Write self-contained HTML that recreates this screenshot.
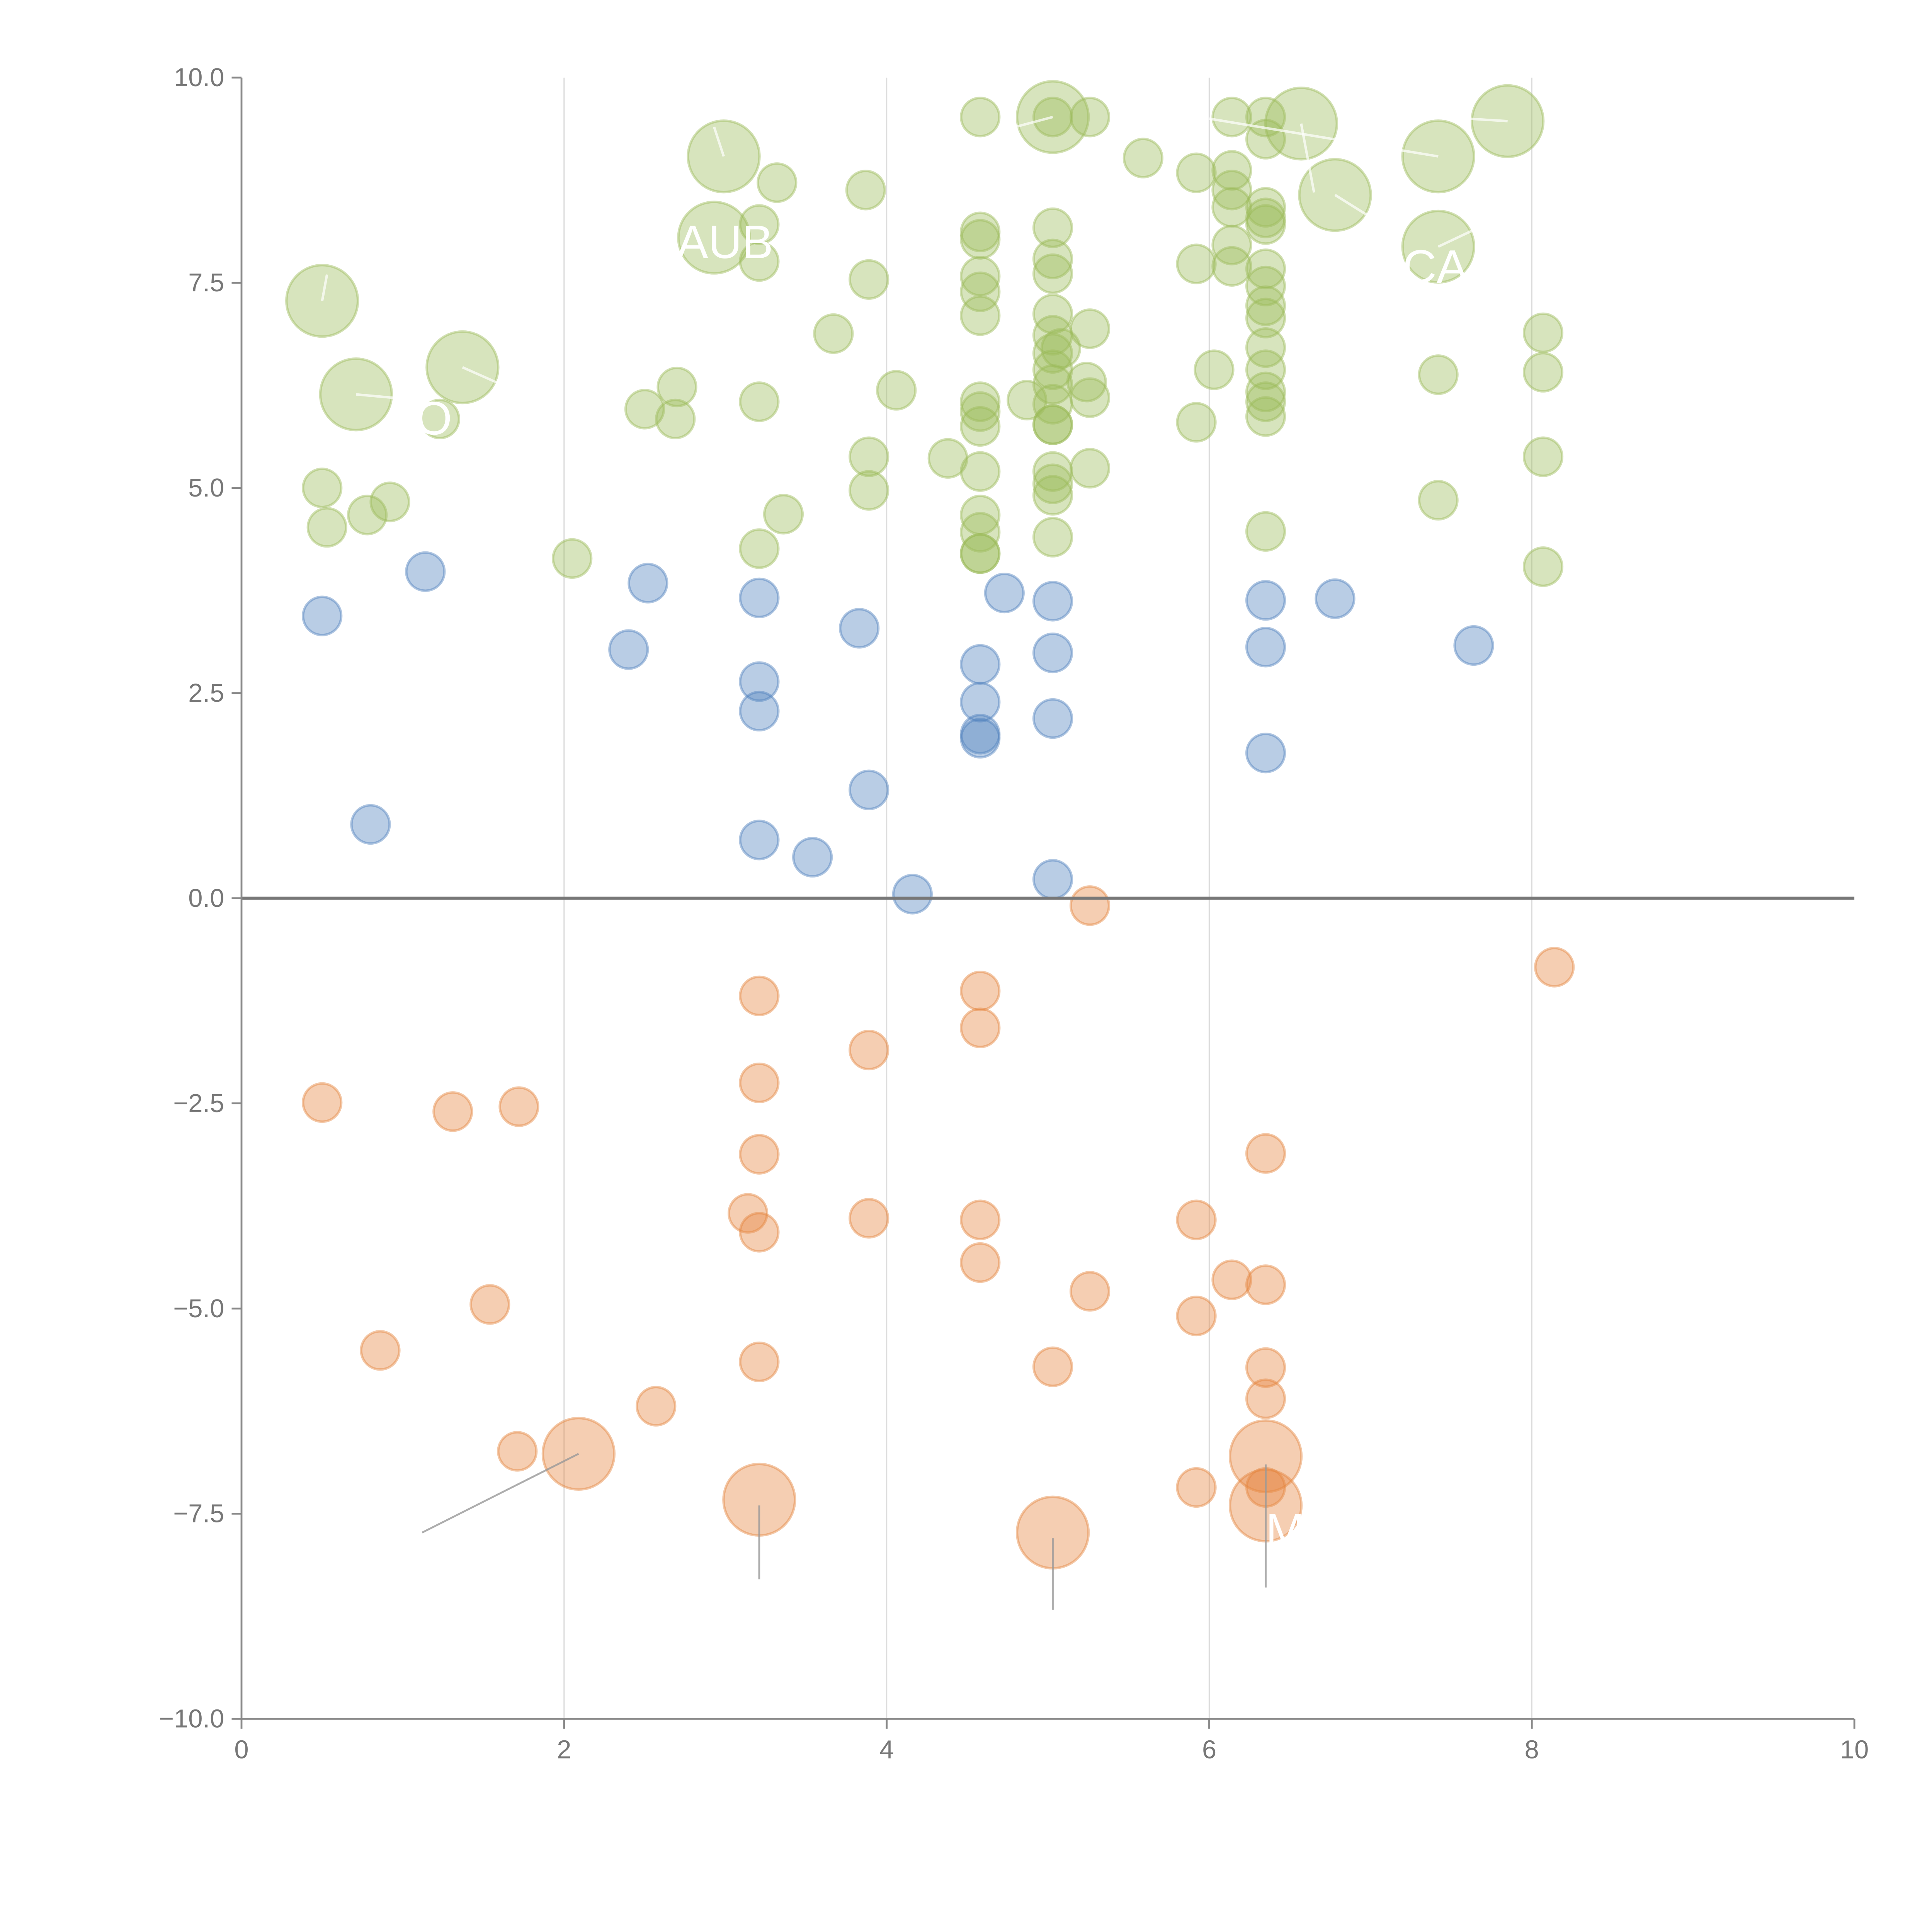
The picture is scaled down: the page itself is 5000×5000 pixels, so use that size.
<!DOCTYPE html>
<html><head><meta charset="utf-8"><style>html,body{margin:0;padding:0;background:#fff}svg{display:block}</style></head>
<body>
<svg id="chart" width="5000" height="5000" viewBox="0 0 1568 1568" xmlns="http://www.w3.org/2000/svg" font-family="Liberation Sans, sans-serif"></svg>
<script>
const xTicks=[0,2,4,6,8,10];
const yTicks=[-10,-7.5,-5,-2.5,0,2.5,5,7.5,10];
const yTickLabels=["\u221210.0","\u22127.5","\u22125.0","\u22122.5","0.0","2.5","5.0","7.5","10.0"];
const greenX=[0.5,0.53,0.78,0.92,0.5,0.71,1.37,1.23,2.05,2.5,2.69,2.7,2.99,2.93,3.21,3.21,3.32,3.21,3.21,3.36,3.67,3.87,3.89,3.89,3.89,4.06,4.38,4.58,4.58,4.58,4.58,4.58,4.58,4.58,4.58,4.58,4.58,4.58,4.58,4.58,4.58,4.87,5.03,5.03,5.26,5.03,5.03,5.03,5.03,5.03,5.03,5.03,5.03,5.03,5.03,5.03,5.03,5.03,5.03,5.03,5.08,5.26,5.24,5.26,5.26,5.59,5.92,5.92,5.92,6.03,6.14,6.14,6.14,6.14,6.14,6.14,6.35,6.35,6.35,6.35,6.35,6.35,6.35,6.35,6.35,6.35,6.35,6.35,6.35,6.35,6.35,6.57,6.78,7.42,7.42,7.42,7.42,7.85,8.07,8.07,8.07,8.07];
const greenY=[5.0,4.52,4.67,4.83,7.28,6.14,6.47,5.84,4.14,5.96,5.84,6.23,9.04,8.05,8.21,7.76,8.72,6.05,4.26,4.68,6.88,8.63,7.54,5.38,4.97,6.19,5.36,9.52,8.12,8.03,7.58,7.39,7.1,6.05,5.93,5.75,5.2,4.67,4.46,4.2,4.2,6.07,9.52,9.52,9.52,8.17,7.79,7.61,7.12,6.86,6.64,6.44,6.26,6.02,5.77,5.2,5.05,4.91,4.4,5.77,6.7,6.94,6.29,6.1,5.24,9.02,8.84,7.73,5.8,6.44,9.52,8.87,8.63,8.42,7.96,7.7,9.52,9.25,8.42,8.29,8.21,7.67,7.46,7.22,7.07,6.71,6.44,6.17,6.05,5.87,4.47,9.44,8.57,9.04,7.94,6.38,4.85,9.47,6.89,6.41,5.38,4.04];
const greenS=[1,1,1,1,2,2,2,1,1,1,1,1,2,2,1,1,1,1,1,1,1,1,1,1,1,1,1,1,1,1,1,1,1,1,1,1,1,1,1,1,1,1,2,1,1,1,1,1,1,1,1,1,1,1,1,1,1,1,1,1,1,1,1,1,1,1,1,1,1,1,1,1,1,1,1,1,1,1,1,1,1,1,1,1,1,1,1,1,1,1,1,2,2,2,2,1,1,2,1,1,1,1];
const blueX=[0.5,0.8,1.14,2.4,2.52,3.21,3.21,3.21,3.21,3.54,3.83,3.89,4.16,4.58,4.58,4.58,4.58,4.73,5.03,5.03,5.03,5.03,6.35,6.35,6.35,6.78,7.64];
const blueY=[3.44,0.9,3.98,3.03,3.84,3.66,2.64,2.28,0.71,0.5,3.29,1.32,0.05,2.85,2.39,2.0,1.95,3.72,3.62,2.99,2.19,0.23,3.63,3.06,1.77,3.65,3.08];
const orangeX=[5.26,8.14,3.21,4.58,4.58,3.89,3.21,0.5,1.31,1.72,3.21,6.35,3.14,3.21,3.89,4.58,4.58,5.92,6.14,6.35,5.26,1.54,5.92,0.86,3.21,5.03,6.35,6.35,2.57,1.71,2.09,6.35,5.92,6.35,3.21,6.35,5.03];
const orangeY=[-0.09,-0.84,-1.19,-1.13,-1.58,-1.85,-2.25,-2.49,-2.6,-2.54,-3.12,-3.11,-3.84,-4.07,-3.9,-3.92,-4.44,-3.92,-4.65,-4.71,-4.79,-4.95,-5.09,-5.51,-5.65,-5.71,-5.72,-6.1,-6.19,-6.74,-6.77,-6.8,-7.18,-7.18,-7.33,-7.4,-7.73];
const orangeS=[1,1,1,1,1,1,1,1,1,1,1,1,1,1,1,1,1,1,1,1,1,1,1,1,1,1,1,1,1,1,2,2,1,1,2,2,2];

const svg=document.getElementById('chart');
const NS='http://www.w3.org/2000/svg';
const L=196,R=1505,T=63,B=1395;
function sx(v){return L+(v-0)/(10-0)*(R-L);}
function sy(v){return B-(v+10)/20*(B-T);}
function rad(s){return s===2?29:15.5;}
function mk(tag,attrs,parent){const e=document.createElementNS(NS,tag);for(const k in attrs)e.setAttribute(k,attrs[k]);(parent||svg).appendChild(e);return e;}

const grid=mk('g',{});


xTicks.forEach(t=>{if(t>0&&t<10){const l=mk('line',{x1:sx(t),x2:sx(t),y1:T,y2:B,stroke:'#dcdcdc','stroke-width':1},grid);

}});

function series(xs,ys,ss,fill,stroke,name){
  const g=mk('g',{});
  
  
  xs.forEach((x,i)=>{const c=mk('circle',{cx:sx(x),cy:sy(ys[i]),r:rad(ss?ss[i]:1),fill:fill,'fill-opacity':0.4,stroke:stroke,'stroke-opacity':0.45,'stroke-width':2},g);
  
  });
}
series(greenX,greenY,greenS,'#9bbb59','#9bbb59','green-series');
series(blueX,blueY,null,'#4f81bd','#4f81bd','blue-series');
series(orangeX,orangeY,orangeS,'#e5843f','#e5843f','orange-series');

const leaders=[[2.09,-6.77,1.12,-7.73],[3.21,-7.4,3.21,-8.3],[5.03,-7.8,5.03,-8.67],[6.35,-6.9,6.35,-8.4]];
leaders.forEach(a=>{const l=mk('line',{x1:sx(a[0]),y1:sy(a[1]),x2:sx(a[2]),y2:sy(a[3]),stroke:'#999','stroke-width':1.5,'stroke-opacity':0.8});

});
const wl=[[2.99,9.04,2.93,9.4],[0.5,7.28,0.53,7.6],[0.71,6.14,1.1,6.07],[1.37,6.47,1.6,6.27],[6.57,9.44,6.65,8.6],[6.78,8.57,7.0,8.3],[7.42,7.94,7.7,8.2],[7.85,9.47,7.6,9.5],[7.42,9.04,6.0,9.5],[5.03,9.52,4.8,9.4]];
wl.forEach(a=>{const l=mk('line',{x1:sx(a[0]),y1:sy(a[1]),x2:sx(a[2]),y2:sy(a[3]),stroke:'#fff','stroke-width':2,'stroke-opacity':0.7});

});
const labels=[["AUB",2.7,7.8],["CA",7.2,7.5],["M",6.35,-7.9],["O",1.08,5.65]];
labels.forEach(a=>{const t=mk('text',{x:sx(a[1]),y:sy(a[2]),fill:'#fff','font-size':38});t.textContent=a[0];

});

const z=mk('line',{x1:L,x2:R,y1:sy(0),y2:sy(0),stroke:'#777','stroke-width':2.5});



const ya=mk('g',{});


mk('line',{x1:L,x2:L,y1:T,y2:B,stroke:'#888','stroke-width':1.5},ya);
yTicks.forEach((t,i)=>{mk('line',{x1:L-8,x2:L,y1:sy(t),y2:sy(t),stroke:'#888','stroke-width':1.5},ya);
const tx=mk('text',{x:L-14,y:sy(t)+7,'text-anchor':'end','font-size':21,fill:'#777'},ya);tx.textContent=yTickLabels[i];

});
const xa=mk('g',{});


mk('line',{x1:L,x2:R,y1:B,y2:B,stroke:'#888','stroke-width':1.5},xa);
xTicks.forEach(t=>{mk('line',{x1:sx(t),x2:sx(t),y1:B,y2:B+8,stroke:'#888','stroke-width':1.5},xa);
const tx=mk('text',{x:sx(t),y:B+32,'text-anchor':'middle','font-size':21,fill:'#777'},xa);tx.textContent=String(t);

});
</script>
</body></html>
